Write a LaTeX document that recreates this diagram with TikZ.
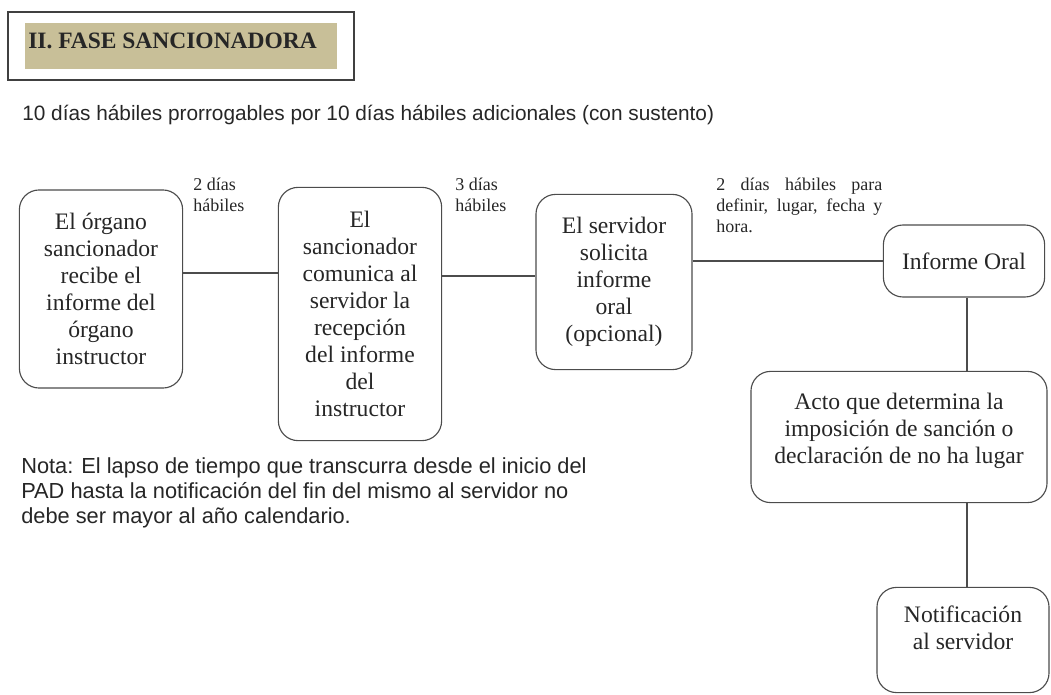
\documentclass[tikz,border=0pt]{standalone}
\usepackage{fontspec}
\setmainfont{Liberation Serif}
\newfontfamily\arialfont{Liberation Sans}
\definecolor{banda}{RGB}{200,191,152}
\begin{document}
\begin{tikzpicture}[x=0.025cm, y=-0.025cm]
  \useasboundingbox (0,0) rectangle (1051,695);
  \tikzstyle{every node} = [text=black!85]
  \tikzstyle{paso} = [draw=black!70, thick, rounded corners=14pt, align=center, inner sep=0pt,
    font=\fontsize{16.8}{19.2}\selectfont]
  \tikzstyle{plazo} = [anchor=north west, align=left, inner sep=0pt,
    font=\fontsize{12.8}{15}\selectfont]
  % encabezado
  \node[draw=black!75, thick, minimum width=8.65cm, minimum height=1.7cm] (fase) at (181,46) {};
  \node[fill=banda, minimum width=7.8cm, minimum height=1.15cm, anchor=north west] (banda) at (25,23) {};
  \node[anchor=west, inner sep=0pt, font=\bfseries\fontsize{16.7}{19}\selectfont] (titulo) at (28,41) {II. FASE SANCIONADORA};
  \node[anchor=west, inner sep=0pt, font=\arialfont\fontsize{14.8}{17}\selectfont] (dias) at (22,115)
    {10 días hábiles prorrogables por 10 días hábiles adicionales (con sustento)};
  % pasos
  \node[paso, minimum width=4.08cm, minimum height=4.95cm] (o1) at (101,289)
    {El órgano\\sancionador\\recibe el\\informe del\\órgano\\instructor};
  \node[paso, minimum width=4.08cm, minimum height=6.33cm] (o2) at (360,314)
    {El\\sancionador\\comunica al\\servidor la\\recepción\\del informe\\del\\instructor};
  \node[paso, minimum width=3.9cm, minimum height=4.38cm] (o3) at (614,282)
    {El servidor\\solicita\\informe\\oral\\(opcional)};
  \node[paso, minimum width=4.03cm, minimum height=1.8cm] (o4) at (964,261) {Informe Oral};
  \node[paso, minimum width=7.4cm, minimum height=3.28cm, text depth=0.45cm] (o5) at (899,437)
    {Acto que determina la\\imposición de sanción o\\declaración de no ha lugar};
  \node[paso, minimum width=4.3cm, minimum height=2.63cm, text depth=0.6cm] (o6) at (963,640)
    {Notificación\\al servidor};
  % plazos
  \node[plazo] (p1) at (193,178) {2 días\\hábiles};
  \node[plazo] (p2) at (455,178) {3 días\\hábiles};
  \node[plazo, text width=4.15cm, align=justify] (p3) at (716,178)
    {2 días hábiles para\linebreak definir, lugar, fecha y\linebreak hora.};
  \path[draw=black!70, thick]
  (o1.east |- 0,273) edge (o2.west |- 0,273)
  (o2.east |- 0,276) edge (o3.west |- 0,276)
  (o3.east |- o4.west) edge (o4.west)
  (o4.south -| 967,0) edge (o5.north -| 967,0)
  (o5.south -| 967,0) edge (o6.north -| 967,0);
  \node[anchor=north west, align=left, inner sep=0pt, font=\arialfont\fontsize{15.5}{17.8}\selectfont] (nota) at (21,457)
    {Nota: El lapso de tiempo que transcurra desde el inicio del\\PAD hasta la notificación del fin del mismo al servidor no\\debe ser mayor al año calendario.};
\end{tikzpicture}
\end{document}
